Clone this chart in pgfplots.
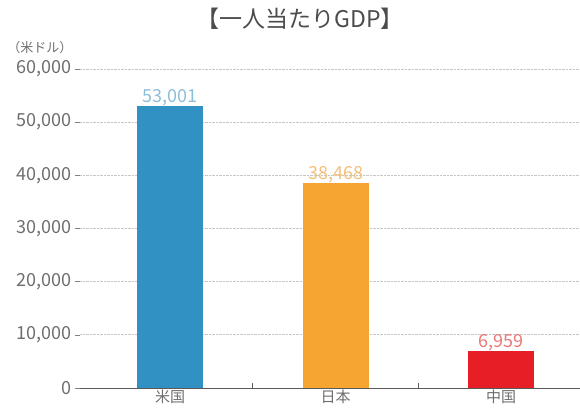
\documentclass[border=0pt]{standalone}
\usepackage{fontspec}
\setmainfont{Noto Sans CJK JP}
\newfontfamily\cjk{Noto Sans CJK JP}
\usepackage{pgfplots}
\pgfplotsset{compat=1.18}
\definecolor{usblue}{RGB}{49,145,195}
\definecolor{jporange}{RGB}{245,165,50}
\definecolor{cnred}{RGB}{232,30,38}
\definecolor{usblueL}{RGB}{140,190,218}
\definecolor{jporangeL}{RGB}{245,190,120}
\definecolor{cnredL}{RGB}{235,120,120}
\definecolor{ticktext}{RGB}{110,110,110}
\definecolor{axisgray}{RGB}{90,90,90}

\begin{document}
\begin{tikzpicture}
\useasboundingbox (-80pt,-20pt) rectangle (500pt,388pt);
\begin{axis}[
    scale only axis,
    width=500pt, height=319pt,
    xmin=-0.544, xmax=2.477,
    ymin=0, ymax=60000,
    ybar, bar width=66pt,
    axis x line=bottom, axis y line=left,
    x axis line style={-, draw=axisgray, line width=1pt},
    y axis line style={draw=none},
    xtick={0.5,1.5},
    xticklabels={},
    xtick align=inside,
    x tick style={draw=axisgray, line width=0.8pt},
    extra x ticks={0,1,2},
    extra x tick labels={米国,日本,中国},
    extra x tick style={major tick length=0pt, tick style={draw=none}},
    xticklabel style={font=\cjk\fontsize{15}{15}\selectfont, text=ticktext, yshift=2pt},
    ytick={0,10000,...,60000},
    scaled y ticks=false,
    ytick align=outside,
    major tick length=5pt,
    y tick style={draw=gray, line width=0.6pt},
    yticklabel style={font=\cjk\fontsize{18}{18}\selectfont, text=ticktext,
        /pgf/number format/1000 sep={,}, /pgf/number format/assume math mode=true},
    ymajorgrids,
    grid style={densely dotted, draw=gray!45, line width=0.8pt},
    nodes near coords,
    every node near coord/.append style={font=\cjk\fontsize{18}{18}\selectfont, anchor=south, yshift=-3pt,
        /pgf/number format/1000 sep={,}, /pgf/number format/assume math mode=true},
    clip=false,
]
\addplot[fill=usblue, draw=none, bar shift=0pt, nodes near coords style={text=usblueL}] coordinates {(0,53001)};
\addplot[fill=jporange, draw=none, bar shift=0pt, nodes near coords style={text=jporangeL}] coordinates {(1,38468)};
\addplot[fill=cnred, draw=none, bar shift=0pt, nodes near coords style={text=cnredL}] coordinates {(2,6959)};
\end{axis}
\node[font=\cjk\fontsize{23}{23}\selectfont, text=black!70] at (220pt,369pt) {【一人当たりGDP】};
\node[font=\cjk\fontsize{13}{13}\selectfont, text=ticktext] at (-40pt,340pt) {（米ドル）};
\end{tikzpicture}
\end{document}
